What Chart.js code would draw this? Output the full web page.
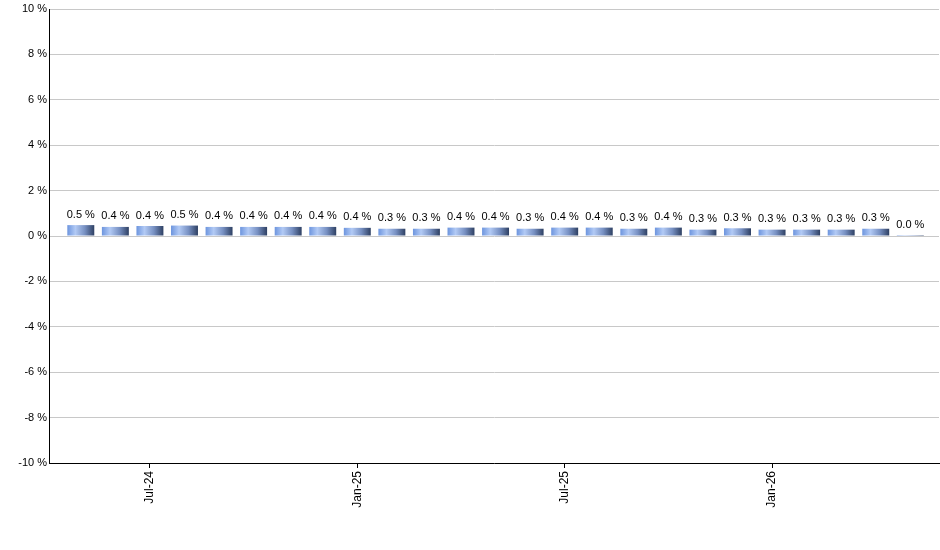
<!DOCTYPE html>
<html lang="en">
<head>
    <meta charset="UTF-8">
    <title>Monthly Returns</title>
    <script src="https://cdn.jsdelivr.net/npm/chart.js"></script>
    <style>
        html, body { margin: 0; padding: 0; background: #fff; }
        #wrap { width: 940px; height: 550px; }
    </style>
</head>
<body>
    <div id="wrap">
        <canvas id="returnChart" width="940" height="550"></canvas>
    </div>

    <script>
        // Months shown (one bar each) and the value, in %
        const months = ['May-24', 'Jun-24', 'Jul-24', 'Aug-24', 'Sep-24', 'Oct-24', 'Nov-24', 'Dec-24',
                        'Jan-25', 'Feb-25', 'Mar-25', 'Apr-25', 'May-25', 'Jun-25', 'Jul-25', 'Aug-25',
                        'Sep-25', 'Oct-25', 'Nov-25', 'Dec-25', 'Jan-26', 'Feb-26', 'Mar-26', 'Apr-26', 'May-26'];
        const returns = [0.48, 0.40, 0.44, 0.46, 0.40, 0.40, 0.40, 0.40,
                         0.36, 0.32, 0.32, 0.37, 0.37, 0.32, 0.37, 0.37,
                         0.32, 0.37, 0.28, 0.34, 0.28, 0.28, 0.28, 0.32, 0.04];
        // Months that get a tick label on the x axis
        const tickMonths = ['Jul-24', 'Jan-25', 'Jul-25', 'Jan-26'];
        const yTicks = [-10, -8, -6, -4, -2, 0, 2, 4, 6, 8, 10];

        const FONT = { family: "'Liberation Sans', Arial, sans-serif", size: 11 };

        // Horizontal gradient across each bar (light blue -> navy)
        function barFill(context) {
            const chart = context.chart;
            const xs = chart.scales.x;
            if (!xs || context.dataIndex === undefined) return '#6d95de';
            const cx = xs.getPixelForValue(context.dataIndex);
            const w = (xs.getPixelForValue(1) - xs.getPixelForValue(0)) * 0.78;
            if (!isFinite(cx) || !isFinite(w) || w <= 0) return '#6d95de';
            const g = chart.ctx.createLinearGradient(cx - w / 2, 0, cx + w / 2, 0);
            g.addColorStop(0, '#6d95de');
            g.addColorStop(0.3, '#b2caf5');
            g.addColorStop(0.65, '#7790c2');
            g.addColorStop(1, '#2e4063');
            return g;
        }

        // Writes "0.4 %" above each bar
        const valueLabels = {
            id: 'valueLabels',
            afterDatasetsDraw(chart) {
                const ctx = chart.ctx;
                const meta = chart.getDatasetMeta(0);
                ctx.save();
                ctx.font = '11px ' + FONT.family;
                ctx.fillStyle = '#000';
                ctx.textAlign = 'center';
                ctx.textBaseline = 'bottom';
                meta.data.forEach((bar, i) => {
                    ctx.fillText(returns[i].toFixed(1) + ' %', bar.x, bar.y - 5);
                });
                ctx.restore();
            }
        };

        const ctx = document.getElementById('returnChart').getContext('2d');
        const returnChart = new Chart(ctx, {
            type: 'bar',
            data: {
                datasets: [{
                    data: returns.map((v, i) => ({ x: i, y: v })),
                    backgroundColor: barFill,
                    borderWidth: 0,
                    barPercentage: 0.78,
                    categoryPercentage: 1
                }]
            },
            options: {
                responsive: false,
                animation: false,
                layout: { padding: { top: 9, right: 1, left: 0, bottom: 0 } },
                plugins: {
                    legend: { display: false },
                    tooltip: { enabled: false }
                },
                scales: {
                    x: {
                        type: 'linear',
                        offset: false,
                        bounds: 'data',
                        min: -0.92,
                        max: 24.83,
                        afterDataLimits(scale) {
                            scale.min = -0.92;
                            scale.max = 24.83;
                        },
                        afterBuildTicks(scale) {
                            scale.ticks = tickMonths.map(m => ({ value: months.indexOf(m) }));
                        },
                        afterFit(scale) { scale.height = 87; },
                        ticks: {
                            autoSkip: false,
                            minRotation: 90,
                            maxRotation: 90,
                            padding: 3,
                            color: '#000',
                            font: { family: FONT.family, size: 12 },
                            callback: (v) => months[v]
                        },
                        grid: {
                            offset: false,
                            drawOnChartArea: false,
                            tickLength: 5,
                            tickColor: '#000'
                        },
                        border: { color: '#000', width: 1 }
                    },
                    y: {
                        min: -10,
                        max: 10,
                        afterBuildTicks(scale) {
                            scale.ticks = yTicks.map(v => ({ value: v }));
                        },
                        afterFit(scale) { scale.width = 49; },
                        ticks: {
                            padding: 2,
                            color: '#000',
                            font: FONT,
                            callback: (v) => v + ' %'
                        },
                        grid: {
                            color: '#c8c8c8',
                            drawTicks: false
                        },
                        border: { color: '#000', width: 1 }
                    }
                }
            },
            plugins: [valueLabels]
        });
    </script>
</body>
</html>
